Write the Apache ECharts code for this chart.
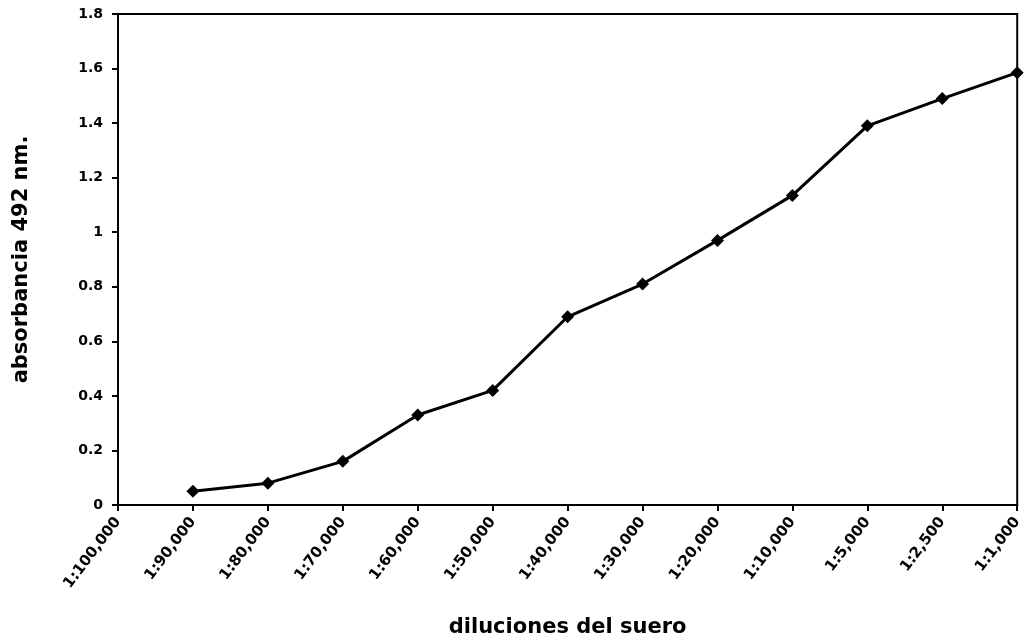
<!DOCTYPE html>
<html>
<head>
<meta charset="utf-8">
<script src="https://cdn.jsdelivr.net/npm/echarts@6/dist/echarts.min.js"></script>
<style>
  html, body { margin: 0; padding: 0; background: #fff; }
  #chart { width: 1025px; height: 644px; }
</style>
</head>
<body>
<div id="chart"></div>
<script>
const dilutions = ['1:100,000', '1:90,000', '1:80,000', '1:70,000', '1:60,000', '1:50,000',
  '1:40,000', '1:30,000', '1:20,000', '1:10,000', '1:5,000', '1:2,500', '1:1,000']
const absorbance = [null, 0.05, 0.08, 0.16, 0.33, 0.42, 0.69, 0.81, 0.97, 1.135, 1.39, 1.49, 1.585]

const font = '"DejaVu Sans", sans-serif'

const chart = echarts.init(document.getElementById('chart'))
const option = {
    animation: false,
    grid: {
        left: 118,
        right: 5,
        top: 14,
        bottom: 139,
        show: true,
        borderColor: '#000',
        borderWidth: 2
    },
    xAxis: {
        type: 'category',
        boundaryGap: false,
        data: dilutions,
        name: 'diluciones del suero',
        nameLocation: 'middle',
        nameGap: 112,
        nameTextStyle: {
            color: '#000',
            fontFamily: font,
            fontWeight: 'bold',
            fontSize: 21
        },
        axisLine: { lineStyle: { color: '#000', width: 2 } },
        axisTick: { show: true, length: 6, lineStyle: { color: '#000', width: 2 } },
        axisLabel: {
            rotate: 53,
            interval: 0,
            color: '#000',
            fontFamily: font,
            fontWeight: 'bold',
            fontSize: 15,
            margin: 14
        },
        splitLine: { show: false }
    },
    yAxis: {
        type: 'value',
        min: 0,
        max: 1.8,
        interval: 0.2,
        name: 'absorbancia 492 nm.',
        nameLocation: 'middle',
        nameGap: 86,
        nameTextStyle: {
            color: '#000',
            fontFamily: font,
            fontWeight: 'bold',
            fontSize: 21
        },
        axisLine: { show: true, lineStyle: { color: '#000', width: 2 } },
        axisTick: { show: true, length: 6, lineStyle: { color: '#000', width: 2 } },
        axisLabel: {
            color: '#000',
            fontFamily: font,
            fontWeight: 'bold',
            fontSize: 14,
            margin: 15,
            formatter: v => (Math.round(v * 10) / 10).toString()
        },
        splitLine: { show: false }
    },
    series: [
        {
            type: 'line',
            data: absorbance,
            symbol: 'diamond',
            symbolSize: 13,
            itemStyle: { color: '#000' },
            lineStyle: { color: '#000', width: 3 }
        }
    ]
}
chart.setOption(option)
</script>
</body>
</html>
